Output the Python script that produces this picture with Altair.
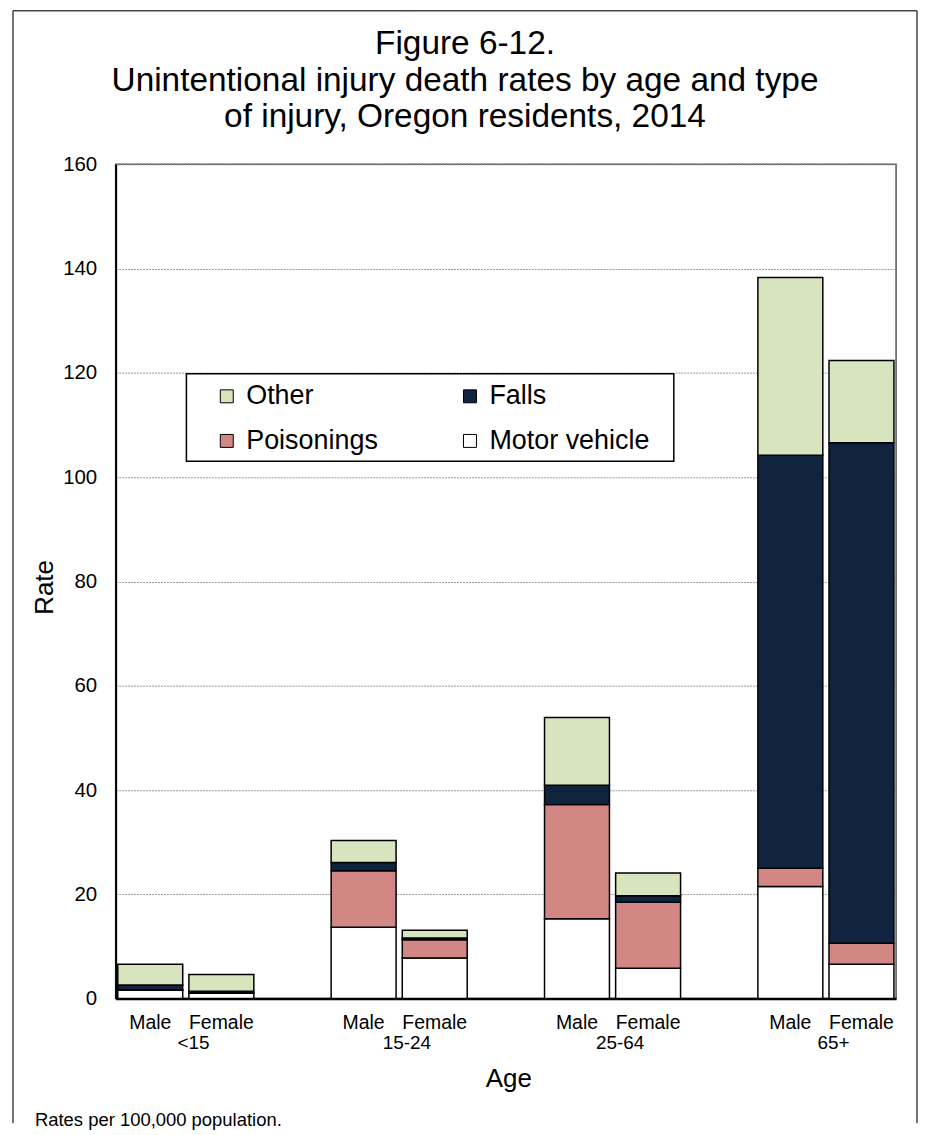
import altair as alt
import pandas as pd

# ---- data ----
title_lines = ["Figure 6-12.",
               "Unintentional injury death rates by age and type",
               "of injury, Oregon residents, 2014"]
footer_text = "Rates per 100,000 population."
ages = ["<15", "15-24", "25-64", "65+"]
sexes = ["Male", "Female"]
# legend fills column by column: column 1 = Other, Poisonings; column 2 = Falls, Motor vehicle
legend_order = ["Other", "Poisonings", "Falls", "Motor vehicle"]
legend_colors = ["#D7E4BD", "#D38784", "#10243F", "#FFFFFF"]
stack_order = {"Motor vehicle": 0, "Poisonings": 1, "Falls": 2, "Other": 3}
# values per (age, sex): <15 M, <15 F, 15-24 M, 15-24 F, 25-64 M, 25-64 F, 65+ M, 65+ F
motor_vehicle = [1.6, 1.0, 13.7, 7.8, 15.3, 5.8, 21.5, 6.6]
poisonings = [0.1, 0.1, 10.8, 3.5, 21.9, 12.7, 3.5, 4.0]
falls = [0.9, 0.3, 1.6, 0.3, 3.7, 1.2, 79.2, 96.0]
other = [4.0, 3.2, 4.2, 1.5, 13.0, 4.4, 34.1, 15.8]
y_ticks = [0, 20, 40, 60, 80, 100, 120, 140, 160]

# ---- tables ----
series = {"Motor vehicle": motor_vehicle, "Poisonings": poisonings,
          "Falls": falls, "Other": other}
slot_domain = []
for gi, a in enumerate(ages):
    for s in sexes:
        slot_domain.append(f"{a}|{s}")
    if gi < len(ages) - 1:
        slot_domain.append(" " * (gi + 1))

rows = []
i = 0
for a in ages:
    for s in sexes:
        for t, vals in series.items():
            rows.append({"slot": f"{a}|{s}", "type": t, "rate": vals[i],
                         "ord": stack_order[t]})
        i += 1
df = pd.DataFrame(rows)
groups = pd.DataFrame({"age": ages, "slot": [f"{a}|Female" for a in ages]})
one = pd.DataFrame({"k": [0]})

W, H = 783, 837
FONT = "Liberation Sans"

x_scale = alt.Scale(domain=slot_domain, paddingInner=0.087, paddingOuter=0.03)

bars = alt.Chart(df).mark_bar(stroke="black", strokeWidth=1.5).encode(
    x=alt.X("slot:N", scale=x_scale, sort=slot_domain,
            axis=alt.Axis(title="Age", labelExpr="indexof(datum.value, '|') >= 0 ? split(datum.value, '|')[1] : ''",
                          ticks=False, tickSize=0, labelPadding=15, labelFontSize=19.5,
                          labelAngle=0, labelOverlap=False, labelColor="black",
                          domainColor="black", domainWidth=2.5, grid=False,
                          titleFontSize=26, titleFontWeight="normal", titleColor="black",
                          titleX=394, titleY=88, titleBaseline="alphabetic", titleAlign="center")),
    y=alt.Y("rate:Q", stack="zero", scale=alt.Scale(domain=[0, 160], nice=False),
            axis=alt.Axis(title="Rate", values=y_ticks, grid=True, gridDash=[2, 1],
                          gridColor="#999999", gridWidth=1, ticks=False, tickSize=0,
                          labelPadding=19, labelFontSize=20.5, labelColor="black",
                          domainColor="black", domainWidth=2,
                          titleFontSize=26, titleFontWeight="normal", titleColor="black",
                          titleAngle=270, titleX=-63, titleY=424,
                          titleBaseline="alphabetic", titleAlign="center")),
    color=alt.Color("type:N", scale=alt.Scale(domain=legend_order, range=legend_colors),
                    legend=alt.Legend(title=None, orient="none", legendX=98, legendY=219,
                                      columns=2, columnPadding=78, rowPadding=17,
                                      symbolType="square", symbolSize=169,
                                      symbolStrokeColor="black", symbolStrokeWidth=1,
                                      labelFontSize=27, labelOffset=6, labelColor="black",
                                      labelLimit=400, padding=0)),
    order=alt.Order("ord:Q", sort="ascending"),
)

legend_box = alt.Chart(one).mark_rect(fill="white", stroke="black", strokeWidth=1.5).encode(
    x=alt.value(71), x2=alt.value(560), y=alt.value(210), y2=alt.value(298))

group_labels = alt.Chart(groups).mark_text(fontSize=19, dx=-28, baseline="alphabetic",
                                           align="center", color="black").encode(
    x=alt.X("slot:N", scale=x_scale),
    y=alt.value(888),
    text="age:N",
)

title = alt.Chart(one).mark_text(text=title_lines, fontSize=33.5, lineHeight=37,
                                 align="center", baseline="alphabetic", color="black").encode(
    x=alt.value(350.5), y=alt.value(-111))

footer = alt.Chart(one).mark_text(text=footer_text, fontSize=18.5, align="left",
                                  baseline="alphabetic", color="black").encode(
    x=alt.value(-81), y=alt.value(965))

frame_left = alt.Chart(one).mark_rule(color="#444444", strokeWidth=1.5).encode(
    x=alt.value(-103), y=alt.value(-154), y2=alt.value(962))
frame_right = alt.Chart(one).mark_rule(color="#444444", strokeWidth=1.5).encode(
    x=alt.value(804), y=alt.value(-154), y2=alt.value(962))
frame_top = alt.Chart(one).mark_rule(color="#444444", strokeWidth=1.5).encode(
    x=alt.value(-103), x2=alt.value(804), y=alt.value(-154))

chart = alt.layer(bars, legend_box, group_labels, title, footer,
                  frame_left, frame_right, frame_top).properties(
    width=W, height=H,
    padding={"left": 4, "top": 0, "right": 0, "bottom": 0},
).configure(font=FONT).configure_view(stroke="#555555", strokeWidth=1.5)

chart.save("out.html", embed_options={"renderer": "svg", "actions": False})
